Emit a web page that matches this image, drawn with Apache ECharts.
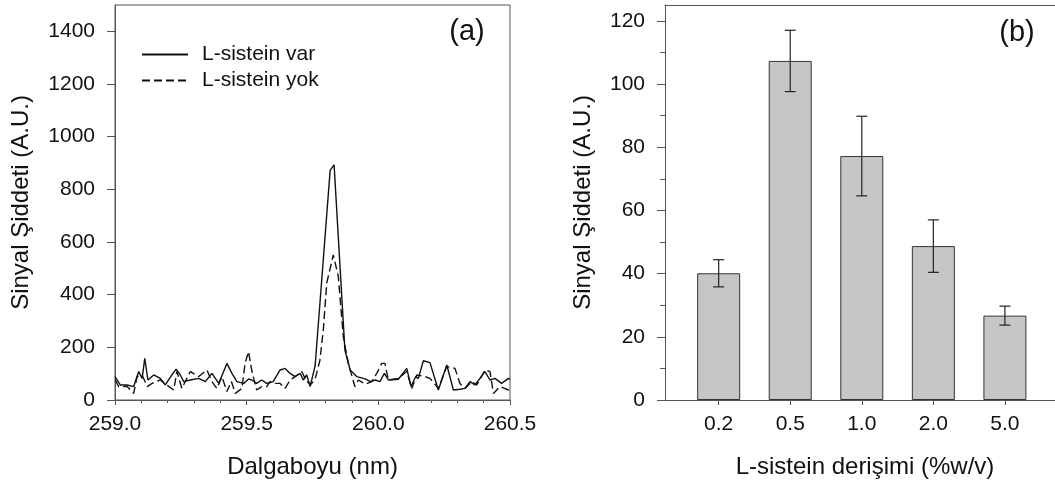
<!DOCTYPE html>
<html>
<head>
<meta charset="utf-8">
<script src="https://cdn.jsdelivr.net/npm/echarts@6/dist/echarts.min.js"></script>
<style>
  html, body { margin: 0; padding: 0; background: #fff; }
  #chart { width: 1055px; height: 488px; }
</style>
</head>
<body>
<div id="chart"></div>
<script>
// (a) emission spectra around the 259.8 nm line
const varWave = [259.000, 259.020, 259.046, 259.071, 259.090, 259.103, 259.113, 259.125, 259.147, 259.172,
  259.191, 259.216, 259.232, 259.248, 259.261, 259.286, 259.318, 259.343, 259.368, 259.394,
  259.425, 259.444, 259.463, 259.489, 259.507, 259.519, 259.538, 259.557, 259.576, 259.601,
  259.627, 259.646, 259.665, 259.684, 259.703, 259.715, 259.728, 259.741, 259.753, 259.760,
  259.817, 259.832, 259.873, 259.893, 259.918, 259.950, 259.970, 259.988, 260.006, 260.023,
  260.038, 260.076, 260.108, 260.124, 260.142, 260.152, 260.171, 260.196, 260.228, 260.260,
  260.285, 260.310, 260.329, 260.348, 260.367, 260.405, 260.424, 260.443, 260.468, 260.494, 260.500];
const varSignal = [89, 57, 57, 51, 108, 82, 158, 76, 95, 82,
  57, 95, 117, 95, 70, 76, 82, 70, 101, 63,
  139, 101, 70, 63, 80, 76, 63, 76, 63, 70,
  114, 120, 101, 89, 101, 76, 95, 51, 101, 130,
  872, 893, 190, 114, 89, 80, 70, 76, 70, 101,
  76, 79, 120, 51, 89, 82, 149, 142, 38, 133,
  38, 41, 44, 70, 57, 108, 76, 82, 63, 82, 78];

const yokWave = [259.001, 259.014, 259.046, 259.071, 259.084, 259.103, 259.122, 259.141, 259.172, 259.197,
  259.223, 259.235, 259.254, 259.286, 259.318, 259.349, 259.368, 259.387, 259.406, 259.425,
  259.442, 259.457, 259.482, 259.494, 259.507, 259.519, 259.525, 259.538, 259.557, 259.576,
  259.589, 259.608, 259.627, 259.646, 259.665, 259.684, 259.709, 259.728, 259.745, 259.760,
  259.778, 259.791, 259.804, 259.829, 259.848, 259.867, 259.886, 259.911, 259.924, 259.950,
  259.975, 259.994, 260.013, 260.025, 260.038, 260.076, 260.108, 260.127, 260.146, 260.177,
  260.196, 260.228, 260.260, 260.291, 260.310, 260.329, 260.355, 260.374, 260.405, 260.424,
  260.437, 260.462, 260.494, 260.500];
const yokSignal = [76, 51, 51, 25, 89, 95, 51, 63, 76, 57,
  38, 108, 44, 108, 89, 114, 70, 44, 89, 32,
  70, 25, 44, 139, 184, 114, 89, 38, 51, 51,
  70, 63, 63, 44, 76, 89, 108, 70, 60, 80,
  150, 266, 444, 551, 469, 241, 139, 51, 76, 60,
  70, 101, 139, 139, 76, 82, 108, 44, 95, 89,
  82, 44, 127, 120, 63, 44, 70, 57, 114, 108,
  25, 51, 38, 40];

const spectrumTicks = [0, 200, 400, 600, 800, 1000, 1200, 1400];

// (b) signal versus L-cysteine concentration
const concLabels = ['0.2', '0.5', '1.0', '2.0', '5.0'];
const concPos = [1, 2, 3, 4, 5];
const meanSignal = [40.1, 107.3, 77.2, 48.7, 26.7];
const sdSignal = [4.3, 9.7, 12.6, 8.3, 3.0];
const barTicks = [0, 20, 40, 60, 80, 100, 120];
const barMinorTicks = [10, 30, 50, 70, 90, 110];

const FONT = '"Liberation Sans", Arial, sans-serif';
const AXIS = '#555';
const INK = '#111';

const chart = echarts.init(document.getElementById('chart'), null, { renderer: 'canvas' });

const axisLineStyle = { show: true, lineStyle: { color: AXIS, width: 1 } };
const tickLabel = { color: INK, fontSize: 21, fontFamily: FONT };
const titleText = { color: INK, fontSize: 24, fontFamily: FONT };
const plain = v => String(v);

chart.setOption({
  animation: false,
  backgroundColor: '#fff',
  textStyle: { fontFamily: FONT },
  grid: [
    { left: 115, top: 5, width: 395, height: 395, show: true, borderColor: AXIS, borderWidth: 1, backgroundColor: '#fff' },
    { left: 665, top: 5, right: 0, height: 395, show: false }
  ],
  legend: {
    data: ['L-sistein var', 'L-sistein yok'],
    orient: 'vertical',
    left: 136,
    top: 39,
    itemWidth: 46,
    itemHeight: 14,
    itemGap: 5,
    selectedMode: false,
    itemStyle: { opacity: 0 },
    textStyle: { color: INK, fontSize: 21, fontFamily: FONT, padding: [0, 0, 0, 9] }
  },
  xAxis: [
    {
      gridIndex: 0, type: 'value', min: 259, max: 260.5, interval: 0.5,
      axisLine: axisLineStyle,
      axisTick: { show: true, length: 5, lineStyle: { color: AXIS } },
      minorTick: { show: true, splitNumber: 5, length: 3, lineStyle: { color: AXIS } },
      splitLine: { show: false },
      axisLabel: Object.assign({ margin: 14, formatter: v => v.toFixed(1) }, tickLabel),
      name: 'Dalgaboyu (nm)', nameLocation: 'middle', nameGap: 55, nameTextStyle: titleText
    },
    {
      gridIndex: 1, type: 'value', min: 0.25, max: 5.7,
      axisLine: axisLineStyle,
      axisTick: { show: true, length: 5, customValues: concPos, lineStyle: { color: AXIS } },
      splitLine: { show: false },
      axisLabel: Object.assign({ margin: 14, customValues: concPos, formatter: v => concLabels[Math.round(v) - 1] }, tickLabel),
      name: 'L-sistein derişimi (%w/v)', nameLocation: 'middle', nameGap: 55,
      nameTextStyle: Object.assign({ padding: [0, 0, 0, 10] }, titleText)
    },
    {
      // frame line along the top of panel (b)
      gridIndex: 1, type: 'value', position: 'top', min: 0.25, max: 5.7,
      axisLine: { show: true, onZero: false, lineStyle: { color: AXIS, width: 1 } },
      axisTick: { show: false },
      axisLabel: { show: false },
      splitLine: { show: false }
    }
  ],
  yAxis: [
    {
      gridIndex: 0, type: 'value', min: 0, max: 1500,
      axisLine: axisLineStyle,
      axisTick: { show: true, length: 8, customValues: spectrumTicks, lineStyle: { color: AXIS } },
      splitLine: { show: false },
      axisLabel: Object.assign({ margin: 20, customValues: spectrumTicks, formatter: plain }, tickLabel),
      name: 'Sinyal Şiddeti (A.U.)', nameLocation: 'middle', nameGap: 82, nameTextStyle: titleText
    },
    {
      gridIndex: 1, type: 'value', min: 0, max: 125, position: 'left',
      axisLine: axisLineStyle,
      axisTick: { show: true, length: 8, customValues: barTicks, lineStyle: { color: AXIS } },
      splitLine: { show: false },
      axisLabel: Object.assign({ margin: 20, customValues: barTicks, formatter: plain }, tickLabel),
      name: 'Sinyal Şiddeti (A.U.)', nameLocation: 'middle', nameGap: 70, nameTextStyle: titleText
    },
    {
      gridIndex: 1, type: 'value', min: 0, max: 125, position: 'left', offset: 0,
      axisLine: { show: false },
      axisTick: { show: true, length: 5, customValues: barMinorTicks, lineStyle: { color: AXIS } },
      splitLine: { show: false },
      axisLabel: { show: false }
    }
  ],
  series: [
    {
      name: 'L-sistein var', type: 'line', xAxisIndex: 0, yAxisIndex: 0,
      data: varWave.map((w, i) => [w, varSignal[i]]),
      symbol: 'none', smooth: false,
      lineStyle: { color: INK, width: 1.4, type: 'solid' },
      itemStyle: { color: INK }
    },
    {
      name: 'L-sistein yok', type: 'line', xAxisIndex: 0, yAxisIndex: 0,
      data: yokWave.map((w, i) => [w, yokSignal[i]]),
      symbol: 'none', smooth: false,
      lineStyle: { color: INK, width: 1.4, type: [8, 4] },
      itemStyle: { color: INK }
    },
    {
      name: 'signal', type: 'bar', xAxisIndex: 1, yAxisIndex: 1,
      data: concPos.map((p, i) => [p, meanSignal[i]]),
      barWidth: 43,
      itemStyle: { color: '#c6c6c6', borderColor: '#333', borderWidth: 1 }
    },
    {
      name: 'sd', type: 'custom', xAxisIndex: 1, yAxisIndex: 1,
      data: concPos.map((p, i) => [p, meanSignal[i] - sdSignal[i], meanSignal[i] + sdSignal[i]]),
      encode: { x: 0, y: [1, 2] },
      z: 5,
      renderItem: function (params, api) {
        const x = api.value(0);
        const lo = api.coord([x, api.value(1)]);
        const hi = api.coord([x, api.value(2)]);
        const half = 5.5;
        const style = { stroke: '#222', lineWidth: 1.2 };
        return {
          type: 'group',
          children: [
            { type: 'line', shape: { x1: lo[0], y1: lo[1], x2: hi[0], y2: hi[1] }, style: style },
            { type: 'line', shape: { x1: lo[0] - half, y1: lo[1], x2: lo[0] + half, y2: lo[1] }, style: style },
            { type: 'line', shape: { x1: hi[0] - half, y1: hi[1], x2: hi[0] + half, y2: hi[1] }, style: style }
          ]
        };
      }
    }
  ],
  graphic: [
    { type: 'text', x: 467, y: 32, style: { text: '(a)', fontSize: 29, fontFamily: FONT, fill: INK, align: 'center', verticalAlign: 'middle', textAlign: 'center', textVerticalAlign: 'middle' } },
    { type: 'text', x: 1017, y: 33, style: { text: '(b)', fontSize: 29, fontFamily: FONT, fill: INK, align: 'center', verticalAlign: 'middle', textAlign: 'center', textVerticalAlign: 'middle' } }
  ]
});
</script>
</body>
</html>
